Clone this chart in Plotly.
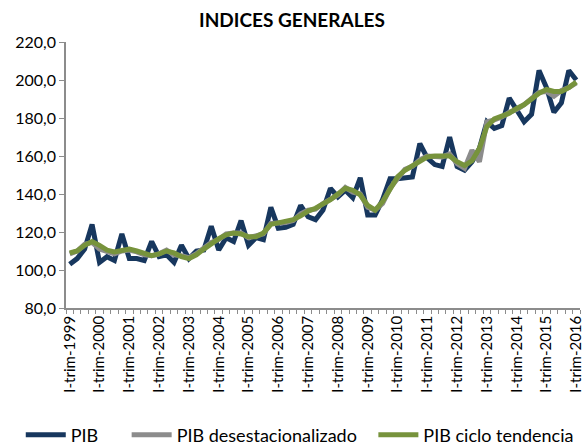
import plotly.graph_objects as go

year_ticks = ["I-trim-1999", "I-trim-2000", "I-trim-2001", "I-trim-2002", "I-trim-2003",
              "I-trim-2004", "I-trim-2005", "I-trim-2006", "I-trim-2007", "I-trim-2008",
              "I-trim-2009", "I-trim-2010", "I-trim-2011", "I-trim-2012", "I-trim-2013",
              "I-trim-2014", "I-trim-2015", "I-trim-2016"]

pib = [103, 106, 111, 124,
       104, 107, 105, 119,
       106, 106, 105, 115,
       107, 108, 104, 113,
       106, 110, 110.5, 123,
       110.5, 117, 115, 126,
       113, 117, 116, 133,
       122, 122.5, 124, 134,
       128, 126.5, 131.5, 143,
       138.5, 142, 138, 148.5,
       129, 129, 137, 148,
       148, 148.5, 149, 166.5,
       159, 155.5, 154.5, 170,
       154.5, 152.5, 157, 164,
       178, 174.5, 176, 190.5,
       184, 178, 182, 205,
       196, 183, 188, 205,
       200]

pib_desest = [108.5, 110, 113.5, 114.5,
              111, 110, 108.5, 110,
              110.5, 109.5, 108, 107.5,
              108.5, 110.5, 108, 107.5,
              106.5, 108.5, 111.5, 114.5,
              116, 119, 119.5, 119.5,
              117, 118, 119, 124.5,
              124.5, 125, 126, 129.5,
              131.5, 132, 135, 137.5,
              139.5, 143.5, 141, 140,
              133, 131.5, 135, 143,
              148.5, 153, 154.5, 158,
              160, 159.5, 159.5, 161,
              156, 153.5, 163, 157,
              178, 179, 180.5, 183,
              184.5, 187, 190, 193.5,
              194, 191.5, 194.5, 196,
              198.5]

pib_tendencia = [109, 110, 113, 115,
                 113, 110.5, 109.5, 110,
                 111, 110, 108.5, 107.5,
                 108.5, 110, 109, 107,
                 106, 108, 111, 114,
                 116.5, 118.5, 119.5, 119,
                 117.5, 117.5, 119.5, 124,
                 125, 125.5, 126.5, 128.5,
                 131, 132.5, 134.5, 137,
                 140, 143, 142, 139.5,
                 134, 131.5, 136, 143,
                 149, 152.5, 155, 157.5,
                 159.5, 160, 160, 160,
                 157, 155, 157.5, 164,
                 175.5, 179.5, 181, 182.5,
                 185, 187, 190, 193,
                 195, 194, 194, 196,
                 199]

x = list(range(len(pib)))
tick_positions = x[::4]

FONT = "Lato"

fig = go.Figure()
fig.add_trace(go.Scatter(x=x, y=pib, mode="lines", name="PIB", legend="legend",
                         line=dict(color="#17375E", width=5)))
fig.add_trace(go.Scatter(x=x, y=pib_desest, mode="lines", name="PIB desestacionalizado",
                         legend="legend2", line=dict(color="#8C8C8C", width=5)))
fig.add_trace(go.Scatter(x=x, y=pib_tendencia, mode="lines", name="PIB ciclo tendencia",
                         legend="legend3", line=dict(color="#77933C", width=5)))

leg_common = dict(orientation="h", xanchor="left", y=-0.478, yanchor="middle",
                  font=dict(family=FONT, size=18, color="black"),
                  itemwidth=40, bgcolor="rgba(0,0,0,0)")

fig.update_layout(
    width=584, height=445,
    margin=dict(l=66, r=4, t=42, b=137, autoexpand=False),
    paper_bgcolor="white", plot_bgcolor="white",
    separators=",.",
    font=dict(family=FONT, size=15, color="black"),
    title=dict(text="<b>INDICES GENERALES</b>", x=0.5, xanchor="center",
               y=0.955, yanchor="middle", font=dict(family=FONT, size=19, color="black")),
    showlegend=True,
    legend=dict(x=-0.088, **leg_common),
    legend2=dict(x=0.118, **leg_common),
    legend3=dict(x=0.598, **leg_common),
    xaxis=dict(range=[-0.5, len(pib) - 0.5], tickmode="array",
               tickvals=tick_positions, ticktext=year_ticks, tickangle=-90,
               ticks="", showgrid=False, zeroline=False, ticklabeloverflow="allow",
               showline=True, linecolor="#8C8C8C", linewidth=1.5,
               tickfont=dict(family=FONT, size=15, color="black"),
               minor=dict(ticks="outside", tick0=-0.5, dtick=1, ticklen=4,
                          tickcolor="#8C8C8C", showgrid=False)),
    yaxis=dict(range=[80, 220], tickmode="linear", tick0=80, dtick=20,
               tickformat=".1f", ticks="outside", ticklen=5, tickcolor="#8C8C8C",
               showgrid=False, zeroline=False,
               showline=True, linecolor="#8C8C8C", linewidth=1.5,
               tickfont=dict(family=FONT, size=16, color="black")),
)

fig.write_html("out.html", config={"displayModeBar": False},
               post_script="document.body.style.margin='0';document.body.style.overflow='hidden';")
